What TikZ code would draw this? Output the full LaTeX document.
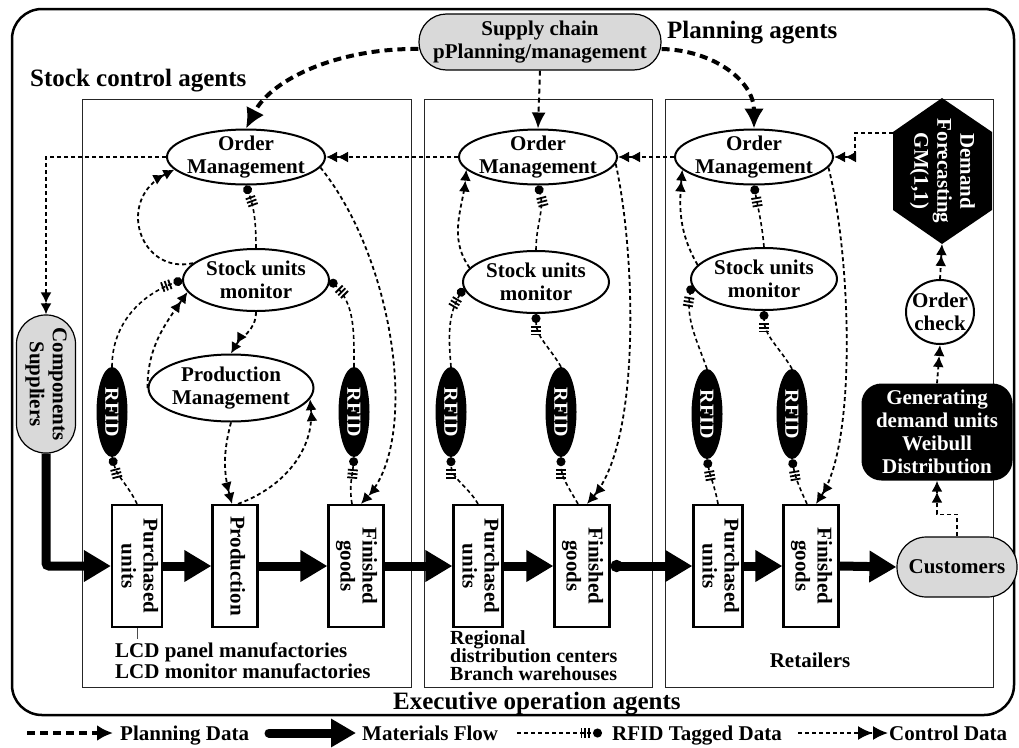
\documentclass[tikz,border=0pt]{standalone}
\usepackage{fontspec}
\setmainfont{Liberation Serif}
\usepackage{graphicx}
\usetikzlibrary{shapes.geometric,shapes.misc,arrows.meta}
\definecolor{pillgray}{gray}{0.85}
\newcommand\myfs[2]{\fontsize{#1}{#2}\selectfont}
\newcommand\vtxt[1]{\rotatebox{-90}{\begin{tabular}{@{}c@{}}#1\end{tabular}}}
\begin{document}
\begin{tikzpicture}[x=1pt,y=-1pt,
 every node/.style={font=\bfseries\myfs{21}{23}},
 ell/.style={ellipse,draw,line width=2pt,fill=white,inner xsep=-30pt,inner ysep=-14pt,align=center},
 rfidn/.style={ellipse,fill=black,text=white,minimum width=31pt,minimum height=90pt,inner sep=0pt,font=\bfseries\myfs{20}{22}},
 box/.style={rectangle,draw,line width=2.2pt,fill=white,minimum height=122pt,inner sep=0pt,font=\bfseries\myfs{21}{22}},
 pill/.style={rectangle,draw,line width=1.2pt,fill=pillgray,align=center,inner sep=0pt},
 region/.style={draw=black!85,line width=1pt},
 lbl/.style={anchor=base west,inner sep=0pt},
 plan/.style={line width=4pt,dash pattern=on 8pt off 5pt,-{Latex[length=20pt,width=20pt]}},
 plantwo/.style={line width=2pt,dash pattern=on 5pt off 4pt,-{Latex[length=16pt,width=14pt]}},
 ctrl/.style={line width=1.8pt,dash pattern=on 4pt off 3pt,-{Latex[length=11pt,width=11pt] Latex[length=11pt,width=11pt]}},
 rfid/.style={line width=1.6pt,dash pattern=on 4pt off 3pt,-{Bar[width=10pt,line width=1.8pt,sep=2pt] Bar[width=10pt,line width=1.8pt,sep=2pt] Bar[width=10pt,line width=1.8pt,sep=3pt] Circle[length=9pt]}},
 mat/.style={line width=9pt,-{Triangle[length=27pt,width=30pt]}}
]
\fill[white] (0,0) rectangle (1019,747);
\useasboundingbox (0,0) rectangle (1019,747);

% frames
\draw[line width=2.5pt,rounded corners=30pt] (12,9) rectangle (1014,715);
\draw[region] (82,99) rectangle (411,687);
\draw[region] (424,99) rectangle (652,687);
\draw[region] (665,99) rectangle (993,687);

% titles
\node[lbl,font=\bfseries\myfs{25}{28}] (SCA) at (30,86) {Stock control agents};
\node[lbl,font=\bfseries\myfs{25}{28}] (PA) at (667,38) {Planning agents};
\node[lbl,font=\bfseries\myfs{25}{28}] (EOA) at (393,709) {Executive operation agents};
\node[lbl] (LCDa) at (115,657) {LCD panel manufactories};
\node[lbl] (LCDb) at (115,678) {LCD monitor manufactories};
\node[lbl,font=\bfseries\myfs{20}{22}] (RDa) at (450,644) {Regional};
\node[lbl,font=\bfseries\myfs{20}{22}] (RDb) at (450,662) {distribution centers};
\node[lbl,font=\bfseries\myfs{20}{22}] (RDc) at (450,680) {Branch warehouses};
\node[anchor=base,inner sep=0pt] (RET) at (810,667) {Retailers};

% planning / external nodes
\node[pill,rounded corners=27.5pt,minimum width=242pt,minimum height=56pt] (SC) at (540,42) {Supply chain\\pPlanning/management};
\node[pill,rounded corners=29pt,minimum width=59pt,minimum height=138pt] (CS) at (46,384) {\vtxt{Components\\Suppliers}};
\node[pill,rounded corners=29.5pt,minimum width=120pt,minimum height=60pt] (CU) at (957,567) {Customers};

% ellipses
\node[ell,minimum width=158pt,minimum height=55pt] (OM1) at (246,157) {Order\\Management};
\node[ell,minimum width=158pt,minimum height=55pt] (OM2) at (538,157) {Order\\Management};
\node[ell,minimum width=158pt,minimum height=55pt] (OM3) at (754,157) {Order\\Management};
\node[ell,minimum width=146pt,minimum height=62pt] (SU1) at (256,280) {Stock units\\monitor};
\node[ell,minimum width=146pt,minimum height=62pt] (SU2) at (536,282) {Stock units\\monitor};
\node[ell,minimum width=146pt,minimum height=62pt] (SU3) at (764,279) {Stock units\\monitor};
\node[ell,minimum width=165pt,minimum height=67pt] (PM) at (231,388) {Production\\Management};
\node[ell,minimum width=68pt,minimum height=64pt] (OC) at (940,312) {Order\\check};

% RFID
\node[rfidn] (R1a) at (112,412) {\rotatebox{-90}{RFID}};
\node[rfidn] (R1b) at (354,412) {\rotatebox{-90}{RFID}};
\node[rfidn] (R2a) at (451,412) {\rotatebox{-90}{RFID}};
\node[rfidn] (R2b) at (561,412) {\rotatebox{-90}{RFID}};
\node[rfidn] (R3a) at (707,414) {\rotatebox{-90}{RFID}};
\node[rfidn] (R3b) at (792,414) {\rotatebox{-90}{RFID}};

% stock boxes
\node[box,minimum width=50pt] (P1) at (137,566) {\vtxt{Purchased\\units}};
\node[box,minimum width=45pt] (PR) at (235,566) {\vtxt{Production}};
\node[box,minimum width=55pt] (F1) at (356,566) {\vtxt{Finished\\goods}};
\node[box,minimum width=49pt] (P2) at (478,566) {\vtxt{Purchased\\units}};
\node[box,minimum width=55pt] (F2) at (582,566) {\vtxt{Finished\\goods}};
\node[box,minimum width=49pt] (P3) at (718,566) {\vtxt{Purchased\\units}};
\node[box,minimum width=55pt] (F3) at (811,566) {\vtxt{Finished\\goods}};
\draw[line width=0.6pt,black!70] (P1.south) -- ++(0,11);

% demand forecasting hexagon
\fill (942,98) -- (992,132) -- (992,210) -- (942,244) -- (893,210) -- (893,132) -- cycle;
\node[text=white] (DF) at (942,171) {\vtxt{Demand\\Forecasting\\GM(1,1)}};
\coordinate (DFs) at (942,244);
\coordinate (DFw) at (893,133);
\node[fill=black,text=white,rounded corners=20pt,minimum width=151pt,minimum height=97pt,align=center,inner sep=0pt] (GEN) at (937,432) {Generating\\demand units\\Weibull\\Distribution};

% planning data
\draw[plan] ([yshift=-7pt]SC.west) .. controls (340,48) and (272,78) .. (OM1.north);
\draw[plan] ([yshift=-7pt]SC.east) .. controls (712,50) and (754,80) .. (OM3.north);
\draw[plantwo] (SC.south) -- (OM2.north);

% control data between order managers
\draw[ctrl] (OM2.west) -- (OM1.east);
\draw[ctrl] (OM3.west) -- (OM2.east);
\draw[ctrl] (OM1.west) -| (CS.north);
\draw[ctrl] (DFw) -- ++(-38,0) |- (OM3.east);
\draw[ctrl] (CU.north) -- ++(0,-22) -| (GEN.south);
\draw[ctrl] (GEN.north) -- (OC.south);
\draw[ctrl] (OC.north) -- (DFs);

% box 1
\draw[rfid] (SU1.north) to[out=90,in=-70] (OM1.south);
\draw[ctrl] (SU1.165) .. controls (140,275) and (115,200) .. (OM1.190);
\draw[rfid] (R1a.north) to[out=90,in=200] (SU1.west);
\draw[ctrl] (PM.west) to[out=90,in=235] (SU1.190);
\draw[ctrl] (SU1.south) to[out=-90,in=60] (PM.north);
\draw[rfid] (R1b.north) to[out=90,in=-45] (SU1.east);
\draw[rfid] (P1.north) to[out=115,in=-75] (R1a.south);
\draw[rfid] ([xshift=-4pt]F1.north) to[out=100,in=-95] (R1b.south);
\draw[ctrl] (PM.south) to[out=-105,in=105] ([xshift=-3pt]PR.north);
\draw[ctrl] ([xshift=3pt]PR.north) to[out=20,in=-85] (PM.-8);
\draw[ctrl] (OM1.-8) .. controls (395,260) and (420,440) .. ([xshift=5pt]F1.north);

% box 2
\draw[rfid] (SU2.north) to[out=90,in=-75] (OM2.south);
\draw[ctrl] (SU2.168) to[out=125,in=265] (OM2.190);
\draw[rfid] (R2a.north) to[out=95,in=-120] (SU2.185);
\draw[rfid] (R2b.north) to[out=120,in=-90] (SU2.south);
\draw[rfid] (P2.north) to[out=120,in=-90] (R2a.south);
\draw[rfid] ([xshift=-4pt]F2.north) to[out=120,in=-90] (R2b.south);
\draw[ctrl] (OM2.-5) .. controls (635,250) and (642,440) .. ([xshift=5pt]F2.north);

% box 3
\draw[rfid] (SU3.north) to[out=95,in=-80] (OM3.south);
\draw[ctrl] (SU3.168) to[out=120,in=265] (OM3.190);
\draw[rfid] (R3a.north) to[out=110,in=-100] (SU3.185);
\draw[rfid] (R3b.north) to[out=120,in=-90] (SU3.south);
\draw[rfid] (P3.north) to[out=100,in=-80] (R3a.south);
\draw[rfid] ([xshift=-4pt]F3.north) to[out=115,in=-80] (R3b.south);
\draw[ctrl] (OM3.-8) .. controls (850,250) and (858,440) .. ([xshift=5pt]F3.north);

% materials flow
\draw[mat,rounded corners=3pt] (CS.south) |- (P1.west);
\draw[mat] (P1.east) -- (PR.west);
\draw[mat] (PR.east) -- (F1.west);
\draw[mat] (F1.east) -- (P2.west);
\draw[mat] (P2.east) -- (F2.west);
\draw[mat,{Circle[length=12pt]}-{Triangle[length=27pt,width=30pt]}] (F2.east) -- (P3.west);
\draw[mat] (P3.east) -- (F3.west);
\draw[mat] (F3.east) -- (CU.west);

% legend
\coordinate (L1a) at (27,733);
\node[anchor=base west,inner sep=0pt] (L1t) at (120,740) {Planning Data};
\coordinate (L1e) at (113,733);
\draw[plan,-{Latex[length=16pt,width=16pt]}] (L1a) -- (L1e);
\coordinate (L2a) at (269,733);
\node[anchor=base west,inner sep=0pt] (L2t) at (362,740) {Materials Flow};
\coordinate (L2e) at (356,733);
\draw[mat,line cap=round,-{Triangle[length=25pt,width=27pt]}] (L2a) -- (L2e);
\coordinate (L3a) at (517,733);
\node[anchor=base west,inner sep=0pt] (L3t) at (612,740) {RFID Tagged Data};
\coordinate (L3e) at (602,733);
\draw[rfid] (L3a) -- (L3e);
\coordinate (L4a) at (798,733);
\node[anchor=base west,inner sep=0pt] (L4t) at (889,740) {Control Data};
\coordinate (L4e) at (888,733);
\draw[ctrl,-{Latex[length=15pt,width=14pt] Latex[length=15pt,width=14pt]}] (L4a) -- (L4e);
\end{tikzpicture}
\end{document}
